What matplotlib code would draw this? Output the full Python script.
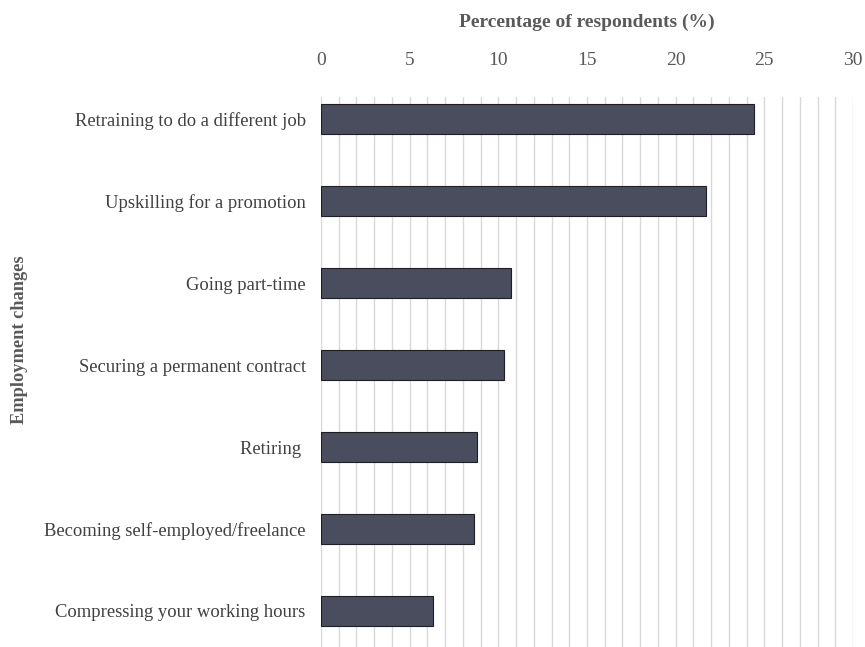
import matplotlib.pyplot as plt
import numpy as np

categories = [
    "Retraining to do a different job",
    "Upskilling for a promotion",
    "Going part-time",
    "Securing a permanent contract",
    "Retiring ",
    "Becoming self-employed/freelance",
    "Compressing your working hours",
]
values = [24.4, 21.7, 10.7, 10.3, 8.8, 8.6, 6.3]

plt.rcParams["font.family"] = ["Liberation Serif", "DejaVu Serif"]

fig = plt.figure(figsize=(8.65, 6.47), dpi=100)
ax = fig.add_axes([321 / 865, 0, 532 / 865, 550 / 647])

y = np.arange(len(categories))
ax.barh(y, values, height=0.37, color="#4a4d5e", edgecolor="#1e1e24", linewidth=0.8, zorder=3)

ax.set_xlim(0, 30)
ax.set_ylim(6.44, -0.27)
ax.set_xticks(range(0, 31, 5))
ax.set_xticks(range(0, 31), minor=True)
ax.set_yticks(y)
ax.set_yticklabels(categories)

ax.xaxis.tick_top()
ax.xaxis.set_label_position("top")
ax.tick_params(axis="x", which="both", length=0, pad=20.5, labelsize=14, labelcolor="#595959")
ax.tick_params(axis="y", length=0, pad=11, labelsize=13.4, labelcolor="#404040")
ax.grid(axis="x", which="both", color="#d9d9d9", linewidth=1, zorder=0)
for s in ax.spines.values():
    s.set_visible(False)

ax.set_xlabel("Percentage of respondents (%)", fontsize=14, fontweight="bold",
              color="#595959", labelpad=18)
fig.text(20 / 865, 1 - 340 / 647, "Employment changes", rotation=90, fontsize=13.2,
         fontweight="bold", color="#595959", ha="center", va="center")

fig.savefig("out.png", dpi=100)
